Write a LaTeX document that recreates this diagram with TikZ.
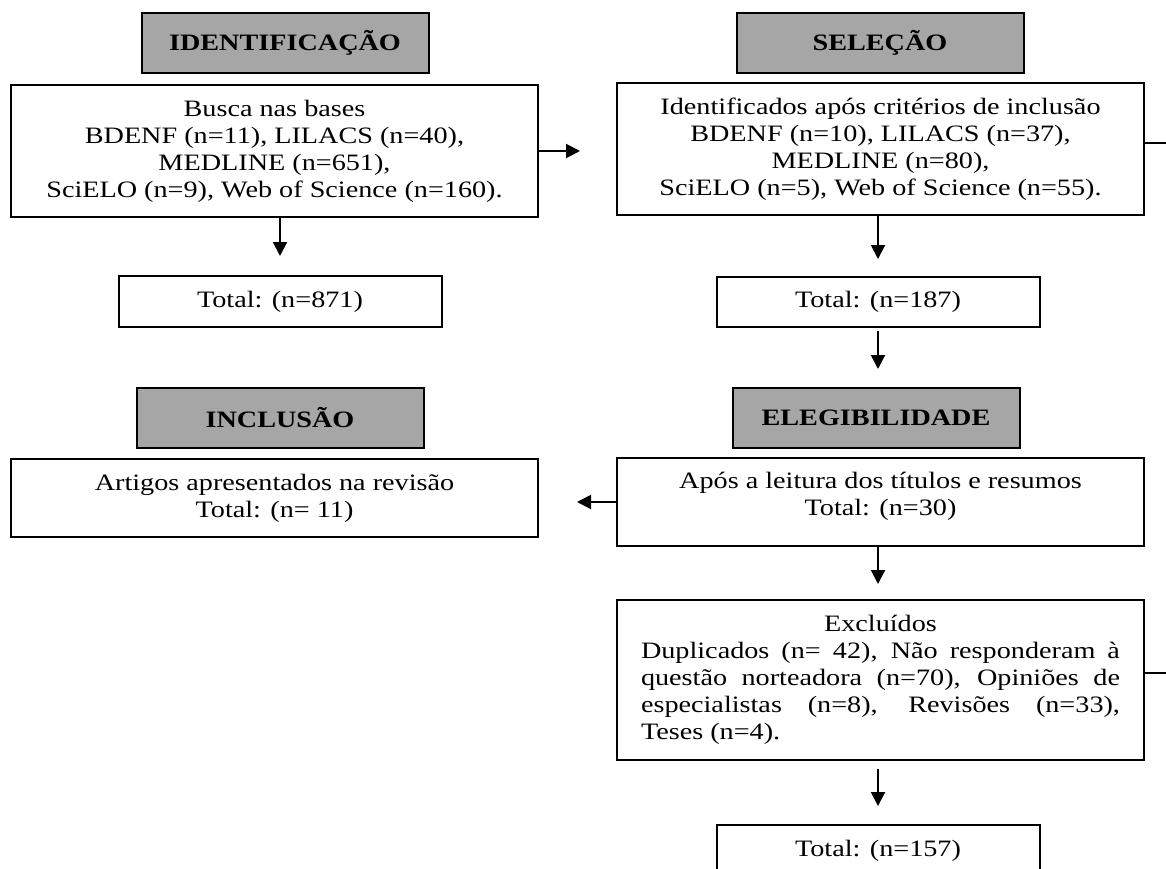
\documentclass[tikz,border=0pt]{standalone}
\usepackage{fontspec}
\setmainfont{Liberation Serif}[FakeStretch=1.2]
\usetikzlibrary{arrows.meta}
\definecolor{hdrgray}{RGB}{166,166,166}
\tikzset{
  box/.style={draw=black, line width=2pt, fill=white, inner sep=0pt, align=center,
    font=\fontsize{23.5}{27}\selectfont},
  hdr/.style={draw=black, line width=2pt, fill=hdrgray, minimum width=287pt,
    minimum height=60pt, inner sep=0pt, font=\fontsize{23.5}{27}\selectfont\bfseries},
  arr/.style={line width=2pt, -{Triangle[length=14pt,width=14pt]}},
  ln/.style={line width=1.5pt},
}
\begin{document}
\begin{tikzpicture}[x=1pt,y=-1pt]
\useasboundingbox (0,0) rectangle (1166,869);
\clip (0,0) rectangle (1166,869);
\fill[white] (0,0) rectangle (1166,869);

% headers
\node[hdr] (hId)  at (285,43)  {IDENTIFICAÇÃO};
\node[hdr] (hSel) at (880,43)  {SELEÇÃO};
\node[hdr] (hInc) at (280,418) {INCLUSÃO};
\node[hdr] (hEle) at (876,418) {ELEGIBILIDADE};

% boxes
\node[box, minimum width=527pt, minimum height=132pt] (busca) at (274.5,151)
  {Busca nas bases\\BDENF (n=11), LILACS (n=40),\\MEDLINE (n=651),\\SciELO (n=9), Web of Science (n=160).};
\node[box, minimum width=527pt, minimum height=131pt] (ident) at (880.5,149)
  {Identificados após critérios de inclusão\\BDENF (n=10), LILACS (n=37),\\MEDLINE (n=80),\\SciELO (n=5), Web of Science (n=55).};
\node[box, minimum width=323pt, minimum height=51pt] (t871) at (280,301.5) {Total: (n=871)};
\node[box, minimum width=323pt, minimum height=50pt] (t187) at (878,302) {Total: (n=187)};
\node[box, minimum width=527pt, minimum height=78pt] (art) at (274.5,498)
  {Artigos apresentados na revisão\\Total: (n= 11)};
\node[box, minimum width=527pt, minimum height=88pt, text depth=17pt] (apos) at (880.5,502)
  {Após a leitura dos títulos e resumos\\Total: (n=30)};
\node[box, minimum width=527pt, minimum height=160pt] (excl) at (880.5,680)
  {\begin{minipage}{479pt}\fontsize{23.5}{27}\selectfont
   {\centering Excluídos\par}
   Duplicados (n= 42), Não responderam à\linebreak
   questão norteadora (n=70), Opiniões de\linebreak
   especialistas (n=8), Revisões (n=33),\linebreak
   Teses (n=4).
   \end{minipage}};
\node[box, minimum width=323pt, minimum height=51pt] (t157) at (878,850.5) {Total: (n=157)};

% connectors
\draw[arr, shorten >=36pt] (busca.east) -- (busca.east -| ident.west);
\draw[arr, shorten >=38pt] (apos.west) -- (apos.west -| art.east);
\draw[arr, shorten >=19pt] (t871.north |- busca.south) -- (t871.north);
\draw[arr, shorten >=17pt] (t187.north |- ident.south) -- (t187.north);
\draw[arr, shorten <=3pt, shorten >=18pt] (t187.south) -- (t187.south |- hEle.north);
\draw[arr, shorten >=15pt] (apos.south -| t187.south) -- (excl.north -| t187.south);
\draw[arr, shorten <=8pt, shorten >=18pt] (excl.south -| t157.north) -- (t157.north);

\coordinate (eI) at (1166,143);
\coordinate (eE) at (1166,673);
\draw[ln] (ident.east |- eI) -- (eI);
\draw[ln] (excl.east |- eE) -- (eE);
\end{tikzpicture}
\end{document}
